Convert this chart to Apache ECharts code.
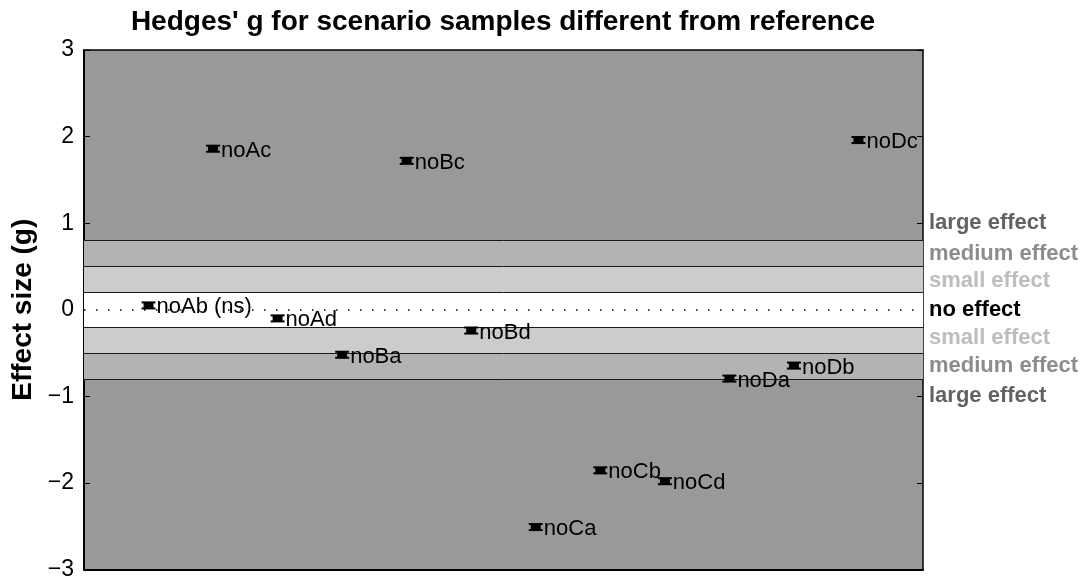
<!DOCTYPE html>
<html><head><meta charset="utf-8">
<script src="https://cdn.jsdelivr.net/npm/echarts@6/dist/echarts.min.js"></script>
<style>html,body{margin:0;padding:0;background:#fff}#c{width:1088px;height:581px}</style>
</head><body><div id="c"></div>
<script>
const categories = ['noAb (ns)','noAc','noAd','noBa','noBc','noBd','noCa','noCb','noCd','noDa','noDb','noDc'];
const gValues = [0.05, 1.86, -0.10, -0.52, 1.72, -0.24, -2.51, -1.855, -1.98, -0.795, -0.645, 1.96];
const ciHalf = [0.035, 0.035, 0.035, 0.035, 0.035, 0.035, 0.035, 0.035, 0.035, 0.035, 0.035, 0.035];
const yTicks = [-3, -2, -1, 0, 1, 2, 3];
const bandEdges = [0.2, 0.5, 0.8];
const bandColors = ['#ffffff', '#cccccc', '#b3b3b3'];
const effectLabels = ['large effect','medium effect','small effect','no effect','small effect','medium effect','large effect'];
const effectKinds = ['large','medium','small','none','small','medium','large'];
const effectLabelValues = [1, 0.65, 0.33, 0, -0.33, -0.65, -1];

const FONT = '"Liberation Sans", Arial, Helvetica, sans-serif';
const chart = echarts.init(document.getElementById('c'), null, {renderer: 'canvas'});

// bands
const areas = [];
areas.push([{yAxis: -bandEdges[0], itemStyle: {color: bandColors[0]}}, {yAxis: bandEdges[0]}]);
for (let i = 1; i < bandEdges.length; i++) {
  areas.push([{yAxis: bandEdges[i-1], itemStyle: {color: bandColors[i]}}, {yAxis: bandEdges[i]}]);
  areas.push([{yAxis: -bandEdges[i], itemStyle: {color: bandColors[i]}}, {yAxis: -bandEdges[i-1]}]);
}
const lines = [];
bandEdges.forEach(e => { lines.push({yAxis: e}); lines.push({yAxis: -e}); });
lines.push({yAxis: 0, lineStyle: {type: [1.5, 10.5], width: 1.5, color: '#000'}});

const pointData = categories.map((n, i) => [i + 1, gValues[i], ciHalf[i]]);

const fmtNum = v => (v < 0 ? '\u2212' + Math.abs(v) : String(v));

chart.setOption({
  animation: false,
  title: {
    text: "Hedges' g for scenario samples different from reference",
    left: 503, top: 8, textAlign: 'center', padding: 0,
    textStyle: {fontFamily: FONT, fontWeight: 'bold', fontSize: 28, color: '#000'}
  },
  grid: {left: 84, right: 165, top: 50, bottom: 10, show: true, backgroundColor: '#999999', borderWidth: 0},
  xAxis: [
    {type: 'value', min: 0, max: 13, position: 'bottom', axisLine: {show: true, onZero: false, lineStyle: {color: '#000', width: 2}},
     axisTick: {show: false}, axisLabel: {show: false}, splitLine: {show: false}},
    {type: 'value', min: 0, max: 13, position: 'top', axisLine: {show: true, onZero: false, lineStyle: {color: '#000', width: 1.5}},
     axisTick: {show: false}, axisLabel: {show: false}, splitLine: {show: false}}
  ],
  yAxis: [
    {type: 'value', min: yTicks[0], max: yTicks[yTicks.length-1], interval: 1, position: 'left',
     axisLine: {show: true, onZero: false, lineStyle: {color: '#000', width: 2}},
     axisTick: {show: true, inside: true, length: 6, lineStyle: {color: '#000'}},
     axisLabel: {fontFamily: FONT, fontSize: 23, color: '#000', margin: 10, formatter: fmtNum},
     splitLine: {show: false},
     name: 'Effect size (g)', nameLocation: 'middle', nameGap: 42,
     nameTextStyle: {fontFamily: FONT, fontWeight: 'bold', fontSize: 28, color: '#000'}},
    {type: 'value', min: yTicks[0], max: yTicks[yTicks.length-1], interval: 1, position: 'right',
     axisLine: {show: true, onZero: false, lineStyle: {color: '#000', width: 1.5}},
     axisTick: {show: true, inside: true, length: 6, lineStyle: {color: '#000'}},
     axisLabel: {customValues: effectLabelValues, margin: 6, fontFamily: FONT, fontSize: 22, fontWeight: 'bold',
       formatter: function (v) {
         let k = 0, best = 1e9;
         effectLabelValues.forEach((ev, i) => { const d = Math.abs(ev - v); if (d < best) { best = d; k = i; } });
         return '{' + effectKinds[k] + '|' + effectLabels[k] + '}';
       },
       rich: {
         large: {color: '#636363', fontFamily: FONT, fontSize: 22, fontWeight: 'bold'},
         medium: {color: '#8c8c8c', fontFamily: FONT, fontSize: 22, fontWeight: 'bold'},
         small: {color: '#bdbdbd', fontFamily: FONT, fontSize: 22, fontWeight: 'bold'},
         none: {color: '#000000', fontFamily: FONT, fontSize: 22, fontWeight: 'bold'}
       }},
     splitLine: {show: false}}
  ],
  series: [
    {type: 'line', data: [], xAxisIndex: 0, yAxisIndex: 0, z: 1, silent: true,
     markArea: {silent: true, data: areas, itemStyle: {opacity: 1}},
     markLine: {silent: true, symbol: 'none', label: {show: false}, lineStyle: {type: 'solid', color: '#1a1a1a', width: 1}, data: lines}},
    {type: 'custom', xAxisIndex: 0, yAxisIndex: 0, z: 5, clip: false, data: pointData,
     renderItem: function (params, api) {
       const x = api.value(0), g = api.value(1), h = api.value(2);
       const c = api.coord([x, g]);
       const top = api.coord([x, g + h])[1];
       const bot = api.coord([x, g - h])[1];
       const hw = 7;
       return {type: 'group', children: [
         {type: 'rect', shape: {x: c[0] - 5, y: top, width: 10, height: bot - top}, style: {fill: '#000'}},
         {type: 'line', shape: {x1: c[0] - hw, y1: top, x2: c[0] + hw, y2: top}, style: {stroke: '#000', lineWidth: 2}},
         {type: 'line', shape: {x1: c[0] - hw, y1: bot, x2: c[0] + hw, y2: bot}, style: {stroke: '#000', lineWidth: 2}},
         {type: 'text', style: {text: categories[params.dataIndex], x: c[0] + 8, y: c[1] + 2, verticalAlign: 'middle', align: 'left',
           font: '22px ' + FONT, fill: '#000'}}
       ]};
     }}
  ]
});
</script></body></html>
